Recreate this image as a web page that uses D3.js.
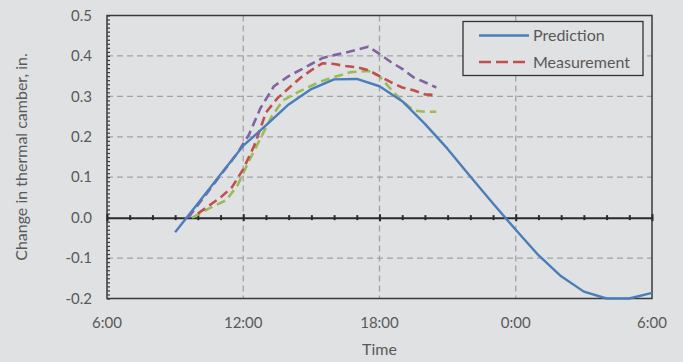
<!DOCTYPE html>
<html>
<head>
<meta charset="utf-8">
<script src="https://cdn.jsdelivr.net/npm/d3@7"></script>
<style>
  html, body { margin: 0; padding: 0; background: #e0e1e3; }
  svg { display: block; }
  text { font-family: Lato, "Open Sans", sans-serif; fill: #595959; }
</style>
</head>
<body>
<svg id="chart" width="683" height="362"></svg>
<script>
// Time in hours since midnight of day 1 (30 = 6:00 next morning)
const xTicks = [6, 12, 18, 24, 30];
const yTicks = [-0.2, -0.1, 0.0, 0.1, 0.2, 0.3, 0.4, 0.5];

// Predicted thermal camber change (hourly)
const predHours = [9, 10, 11, 12, 13, 14, 15, 16, 17, 18, 19, 20, 21, 22, 23, 24, 25, 26, 27, 28, 29, 30];
const predValues = [-0.036, 0.035, 0.107, 0.178, 0.228, 0.28, 0.318, 0.342, 0.343, 0.325, 0.288, 0.232,
                    0.17, 0.102, 0.035, -0.03, -0.093, -0.145, -0.183, -0.2, -0.2, -0.186];

// Measured thermal camber change, three gauges
const measARedHours = [10, 10.5, 11, 11.5, 12, 12.5, 13, 13.5, 14, 14.5, 15, 15.5, 16, 16.5, 17, 17.5, 18, 18.5, 19, 19.5, 20, 20.5];
const measARedValues = [0.01, 0.03, 0.05, 0.075, 0.12, 0.18, 0.26, 0.295, 0.32, 0.345, 0.365, 0.382, 0.38, 0.375, 0.372, 0.365, 0.35, 0.335, 0.322, 0.315, 0.305, 0.303];

const measBGreenHours = [9.75, 10.5, 11.25, 11.75, 12.25, 12.75, 13.25, 13.75, 14.5, 15.25, 16, 16.75, 17.5, 18, 18.5, 19, 19.5, 20, 20.5];
const measBGreenValues = [0.0, 0.023, 0.043, 0.08, 0.14, 0.195, 0.25, 0.29, 0.313, 0.333, 0.348, 0.36, 0.363, 0.35, 0.318, 0.288, 0.265, 0.262, 0.262];

const measCPurpleHours = [9.58, 11, 11.75, 12.25, 12.75, 13.35, 14, 14.5, 15, 15.5, 16, 16.5, 17, 17.5, 18, 18.5, 19, 19.5, 20, 20.5];
const measCPurpleValues = [0.0, 0.105, 0.16, 0.205, 0.27, 0.325, 0.35, 0.365, 0.38, 0.395, 0.402, 0.408, 0.415, 0.423, 0.405, 0.385, 0.368, 0.347, 0.335, 0.322];

const svg = d3.select("#chart");
const plotLeft = 107, plotRight = 652, plotTop = 15.5, plotBottom = 298.5;

const x = d3.scaleLinear().domain([6, 30]).range([plotLeft, plotRight]);
const y = d3.scaleLinear().domain([-0.2, 0.5]).range([plotBottom, plotTop]);

const fmtHour = h => (h % 24) + ":00";

// Gridlines
const grid = svg.append("g").attr("stroke", "#a3a3a3").attr("stroke-width", 1.3).attr("stroke-dasharray", "6,4");
grid.selectAll("line.h").data(yTicks.filter(v => v !== 0 && v !== -0.2 && v !== 0.5)).join("line")
  .attr("x1", plotLeft).attr("x2", plotRight).attr("y1", d => y(d)).attr("y2", d => y(d));
grid.selectAll("line.v").data(xTicks.filter(v => v !== 6 && v !== 30)).join("line")
  .attr("y1", plotTop).attr("y2", plotBottom).attr("x1", d => x(d)).attr("x2", d => x(d));

// Plot frame
svg.append("rect").attr("x", plotLeft).attr("y", plotTop).attr("width", plotRight - plotLeft).attr("height", plotBottom - plotTop)
  .attr("fill", "none").attr("stroke", "#3a3a3a").attr("stroke-width", 1.5);

// Left axis with minor ticks every 0.01
const yAxis = d3.axisRight(y).tickValues(d3.range(-20, 51).map(i => i / 100)).tickSize(3).tickFormat("");
svg.append("g").attr("transform", `translate(${plotLeft},0)`).call(yAxis)
  .call(g => g.select(".domain").remove())
  .call(g => g.selectAll("line").attr("stroke", "#3a3a3a").attr("stroke-width", 1.2));

// Tick labels on the left
svg.append("g").selectAll("text").data(yTicks).join("text")
  .attr("x", plotLeft - 15).attr("y", d => y(d)).attr("dy", "0.35em")
  .attr("text-anchor", "end").attr("font-size", 15)
  .text(d => d.toFixed(1));

// Zero line with hourly ticks
const zeroY = y(0);
const zAxis = d3.axisBottom(x).tickValues(d3.range(6, 31)).tickSize(0).tickFormat("");
const zg = svg.append("g").attr("transform", `translate(0,${zeroY})`).call(zAxis);
zg.select(".domain").attr("stroke", "#2a2a2a").attr("stroke-width", 2);
zg.selectAll(".tick").append("line")
  .attr("y1", d => (d % 6 === 0 ? -3.5 : -2.5)).attr("y2", d => (d % 6 === 0 ? 3.5 : 2.5))
  .attr("stroke", "#2a2a2a").attr("stroke-width", 2);

// Time tick labels
svg.append("g").selectAll("text").data(xTicks).join("text")
  .attr("x", d => x(d)).attr("y", plotBottom + 29)
  .attr("text-anchor", "middle").attr("font-size", 15)
  .text(fmtHour);

// Axis titles
svg.append("text").attr("x", x(18)).attr("y", 355).attr("text-anchor", "middle")
  .attr("font-size", 16).text("Time");
svg.append("text").attr("transform", `translate(27,${(plotTop + plotBottom) / 2}) rotate(-90)`)
  .attr("text-anchor", "middle").attr("font-size", 16).text("Change in thermal camber, in.");

// Series
const line = d3.line().x(d => x(d[0])).y(d => y(d[1]));
const series = [
  { h: measBGreenHours, v: measBGreenValues, color: "#9bbb59", dash: "9,5" },
  { h: measARedHours, v: measARedValues, color: "#c0504d", dash: "9,5" },
  { h: measCPurpleHours, v: measCPurpleValues, color: "#8064a2", dash: "9,5" },
  { h: predHours, v: predValues, color: "#4a7ebb", dash: null }
];
series.forEach(s => {
  svg.append("path").datum(d3.zip(s.h, s.v))
    .attr("d", line).attr("fill", "none")
    .attr("stroke", s.color).attr("stroke-width", s.dash ? 2.6 : 2.4)
    .attr("stroke-dasharray", s.dash)
    .attr("stroke-linejoin", "round");
});

// Legend
const lg = svg.append("g");
lg.append("rect").attr("x", 463).attr("y", 21.5).attr("width", 180).attr("height", 54)
  .attr("fill", "#e0e1e3").attr("stroke", "#333").attr("stroke-width", 1.3);
const legendItems = [
  { label: "Prediction", color: "#4a7ebb", dash: null, yy: 35.5 },
  { label: "Measurement", color: "#c0504d", dash: "12,5", yy: 62 }
];
legendItems.forEach(it => {
  lg.append("line").attr("x1", 479).attr("x2", 529).attr("y1", it.yy).attr("y2", it.yy)
    .attr("stroke", it.color).attr("stroke-width", 2.6).attr("stroke-dasharray", it.dash);
  lg.append("text").attr("x", 533).attr("y", it.yy).attr("dy", "0.35em")
    .attr("font-size", 16).text(it.label);
});
</script>
</body>
</html>
